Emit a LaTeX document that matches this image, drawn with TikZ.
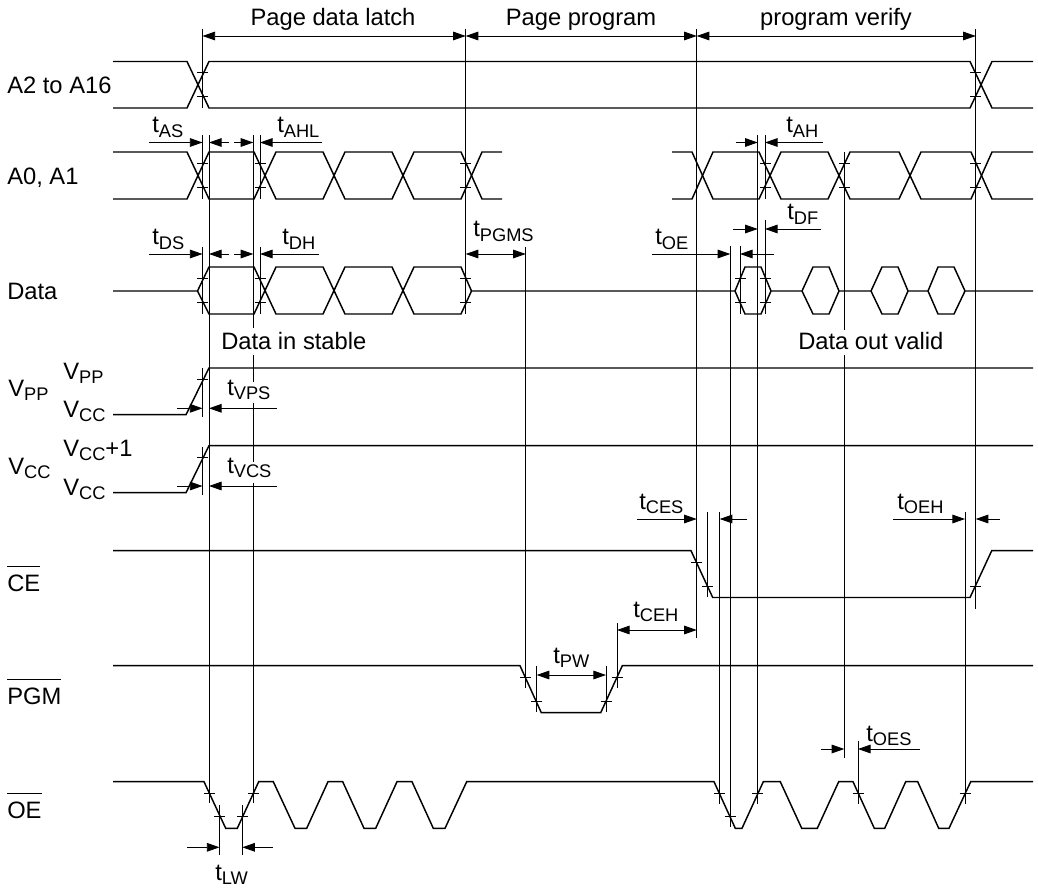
\documentclass[tikz,border=0pt]{standalone}
\usepackage{fontspec}
\setmainfont{Liberation Sans}
\usetikzlibrary{arrows.meta}
\newcommand{\subtxt}[2]{#1\raisebox{-3.4pt}{\fontsize{13.7}{15}\selectfont #2}}
\newcommand{\barsig}[1]{$\overline{\mbox{\rule{0pt}{17.4pt}#1}}$}
\tikzset{
  wave/.style={line width=1.1pt},
  thinline/.style={line width=0.65pt},
  lbl/.style={anchor=base west,inner sep=0pt,font=\fontsize{17.8}{20}\selectfont},
  title/.style={anchor=base,inner sep=0pt,font=\fontsize{17.8}{20}\selectfont},
  dim/.style={line width=0.65pt,-{Triangle[length=9.5pt,width=6.5pt]}},
  dimboth/.style={line width=0.65pt,{Triangle[length=9.5pt,width=6.5pt]}-{Triangle[length=9.5pt,width=6.5pt]}}
}
\newcommand{\ticks}[2]{\foreach \xx in {#1} {\foreach \yy in {#2} {\draw [thinline] (\xx-5.5,\yy) -- (\xx+5.5,\yy);}}}
\begin{document}
\begin{tikzpicture}[x=0.75pt,y=-0.75pt]
        \useasboundingbox (0,0) rectangle (1038,891);
        \node (latch) [title] at (333,26) {Page data latch};
        \node (program) [title] at (581,26) {Page program};
        \node (verify) [title] at (836,26) {program verify};
        \node (addrhi) [lbl] at (7,94) {A2 to A16};
        \node (addrlo) [lbl] at (7,185) {A0, A1};
        \node (data) [lbl] at (7,299) {Data};
        \node (vpp) [lbl] at (8,396) {\subtxt{V}{PP}};
        \node (vpphigh) [lbl] at (63,379) {\subtxt{V}{PP}};
        \node (vpplow) [lbl] at (63,417) {\subtxt{V}{CC}};
        \node (vcc) [lbl] at (8,474) {\subtxt{V}{CC}};
        \node (vcchigh) [lbl] at (63,456) {\subtxt{V}{CC}+1};
        \node (vcclow) [lbl] at (63,495) {\subtxt{V}{CC}};
        \node (ce) [lbl] at (7,591) {\barsig{CE}};
        \node (pgm) [lbl] at (7,704) {\barsig{PGM}};
        \node (oe) [lbl] at (7,818) {\barsig{OE}};
        \node (instable) [lbl] at (221,349) {Data in stable};
        \node (outvalid) [lbl] at (798,349) {Data out valid};
        \node (tas) [lbl] at (152,133) {\subtxt{t}{AS}};
        \node (tahl) [lbl] at (277,133) {\subtxt{t}{AHL}};
        \node (tah) [lbl] at (786,133) {\subtxt{t}{AH}};
        \node (tds) [lbl] at (152,245) {\subtxt{t}{DS}};
        \node (tdh) [lbl] at (282,245) {\subtxt{t}{DH}};
        \node (tpgms) [lbl] at (473,237) {\subtxt{t}{PGMS}};
        \node (tdf) [lbl] at (787,220) {\subtxt{t}{DF}};
        \node (toe) [lbl] at (655,245) {\subtxt{t}{OE}};
        \node (tvps) [lbl] at (227,395) {\subtxt{t}{VPS}};
        \node (tvcs) [lbl] at (227,473) {\subtxt{t}{VCS}};
        \node (tces) [lbl] at (639,509) {\subtxt{t}{CES}};
        \node (toeh) [lbl] at (897,509) {\subtxt{t}{OEH}};
        \node (tceh) [lbl] at (633,617) {\subtxt{t}{CEH}};
        \node (tpw) [lbl] at (553,663) {\subtxt{t}{PW}};
        \node (toes) [lbl] at (866,741) {\subtxt{t}{OES}};
        \node (tlw) [lbl] at (215,880) {\subtxt{t}{LW}};

        \draw [wave] (113,61.5) -- (187,61.5) -- (209,108) -- (970,108) -- (992,61.5) -- (1033,61.5);
        \draw [wave] (113,108) -- (187,108) -- (209,61.5) -- (970,61.5) -- (992,108) -- (1033,108);

        \draw [wave] (113,152) -- (187,152) -- (209,199) -- (254,199) -- (276,152) -- (323,152) -- (345,199) -- (392,199) -- (414,152) -- (461,152) -- (482,199) -- (502,199);
        \draw [wave] (113,199) -- (187,199) -- (209,152) -- (254,152) -- (276,199) -- (323,199) -- (345,152) -- (392,152) -- (414,199) -- (461,199) -- (482,152) -- (502,152);
        \draw [wave] (672,152) -- (692,152) -- (713,199) -- (759,199) -- (781,152) -- (828,152) -- (850,199) -- (899,199) -- (921,152) -- (971,152) -- (992,199) -- (1033,199);
        \draw [wave] (672,199) -- (692,199) -- (713,152) -- (759,152) -- (781,199) -- (828,199) -- (850,152) -- (899,152) -- (921,199) -- (971,199) -- (992,152) -- (1033,152);

        \draw [wave] (113,291) -- (197.5,291) -- (209,267) -- (254,267) -- (276,314) -- (323,314) -- (345,267) -- (392,267) -- (414,314) -- (461,314) -- (471.5,291) -- (735,291) -- (745,267) -- (761,267) -- (771,291) -- (802,291) -- (813,267) -- (829,267) -- (839,291) -- (871,291) -- (882,267) -- (898,267) -- (908,291) -- (928,291) -- (938,267) -- (954,267) -- (965,291) -- (1033,291);
        \draw [wave] (197.5,291) -- (209,314) -- (254,314) -- (276,267) -- (323,267) -- (345,314) -- (392,314) -- (414,267) -- (461,267) -- (471.5,291);
        \draw [wave] (735,291) -- (745,314) -- (761,314) -- (771,291);
        \draw [wave] (802,291) -- (813,314) -- (829,314) -- (839,291);
        \draw [wave] (871,291) -- (882,314) -- (898,314) -- (908,291);
        \draw [wave] (928,291) -- (938,314) -- (954,314) -- (965,291);

        \draw [wave] (113,414.7) -- (186,414.7) -- (209,368) -- (1033,368);
        \draw [wave] (113,492.7) -- (186,492.7) -- (209,445.7) -- (1033,445.7);
        \draw [wave] (113,550.7) -- (691,550.7) -- (712.7,597.5) -- (970,597.5) -- (991.7,550.7) -- (1033,550.7);
        \draw [wave] (113,665.7) -- (520,665.7) -- (541.3,712.7) -- (600.7,712.7) -- (622.3,665.7) -- (1033,665.7);
        \draw [wave] (113,781.7) -- (204,781.7) -- (225.7,828.3) -- (237.3,828.3) -- (258.7,781.7) -- (273.3,781.7) -- (295,828.3) -- (306.7,828.3) -- (328,781.7) -- (342.7,781.7) -- (364,828.3) -- (375.7,828.3) -- (397,781.7) -- (412,781.7) -- (433.3,828.3) -- (445,828.3) -- (466.7,781.7) -- (714,781.7) -- (735.3,828.3) -- (742,828.3) -- (763.3,781.7) -- (780.3,781.7) -- (801.7,828.3) -- (817.3,828.3) -- (838.7,781.7) -- (853,781.7) -- (874.3,828.3) -- (884.7,828.3) -- (905.7,781.7) -- (917.7,781.7) -- (938.7,828.3) -- (949,828.3) -- (970.7,781.7) -- (1033,781.7);

        \draw [thinline] (202.5,29) -- (202.5,108);
        \draw [thinline] (202.5,135) -- (202.5,199);
        \draw [thinline] (202.5,247) -- (202.5,314);
        \draw [thinline] (202.5,368) -- (202.5,417);
        \draw [thinline] (202.5,447) -- (202.5,495);
        \draw [thinline] (209,135) -- (209,803);
        \draw [thinline] (253.3,135) -- (253.3,328);
        \draw [thinline] (253.3,355) -- (253.3,382);
        \draw [thinline] (253.3,403) -- (253.3,462);
        \draw [thinline] (253.3,483) -- (253.3,803);
        \draw [thinline] (260,135) -- (260,199);
        \draw [thinline] (260,247) -- (260,314);
        \draw [thinline] (219.5,805) -- (219.5,855);
        \draw [thinline] (242.3,805) -- (242.3,855);
        \draw [thinline] (465.7,29) -- (465.7,314);
        \draw [thinline] (525.7,247) -- (525.7,688);
        \draw [thinline] (536.7,666) -- (536.7,712);
        \draw [thinline] (606,666) -- (606,712);
        \draw [thinline] (617,623) -- (617,688);
        \draw [thinline] (696.7,29) -- (696.7,638);
        \draw [thinline] (707.7,512) -- (707.7,597);
        \draw [thinline] (719.7,512) -- (719.7,804);
        \draw [thinline] (730.3,246) -- (730.3,827);
        \draw [thinline] (740,246) -- (740,314);
        \draw [thinline] (757.7,135) -- (757.7,804);
        \draw [thinline] (765,135) -- (765,199);
        \draw [thinline] (765,220) -- (765,314);
        \draw [thinline] (844.3,152) -- (844.3,330);
        \draw [thinline] (844.3,355) -- (844.3,758);
        \draw [thinline] (858,741) -- (858,804);
        \draw [thinline] (965,512) -- (965,804);
        \draw [thinline] (975.7,29) -- (975.7,609);

        \ticks{202.5,975.7}{72.5,96}
        \ticks{202.5,260,465.7,765,844.3,975.7}{163.5,187.5}
        \ticks{202.5,260,465.7,740.5,765}{278.5,302.5}
        \ticks{202.5}{379.3,457.3}
        \ticks{696.7}{562}
        \ticks{707.7,975.7}{586}
        \ticks{525.7,617}{677.5}
        \ticks{536.7,606}{701}
        \ticks{209,253.3,719.7,757.7,858,965}{793}
        \ticks{219.5,242.3,730.3}{816.7}

        \draw [dimboth] (202.5,36) -- (465.7,36);
        \draw [dimboth] (465.7,36) -- (696.7,36);
        \draw [dimboth] (696.7,36) -- (975.7,36);
        \draw [dim] (149,142.5) -- (202.5,142.5);
        \draw [dim] (229,142.5) -- (209,142.5);
        \draw [dim] (234,142.5) -- (253.3,142.5);
        \draw [dim] (322,142.5) -- (260,142.5);
        \draw [dim] (735.7,142.5) -- (757.7,142.5);
        \draw [dim] (823,142.5) -- (765,142.5);
        \draw [dim] (733,229) -- (757.7,229);
        \draw [dim] (821,229) -- (765,229);
        \draw [dim] (149,254) -- (202.5,254);
        \draw [dim] (229,254) -- (209,254);
        \draw [dim] (234,254) -- (253.3,254);
        \draw [dim] (319,254) -- (260,254);
        \draw [dimboth] (465.7,254) -- (525.7,254);
        \draw [dim] (652,254) -- (730.3,254);
        \draw [dim] (774,254) -- (740,254);
        \draw [dim] (177,408.3) -- (202.5,408.3);
        \draw [dim] (276.7,408.3) -- (209,408.3);
        \draw [dim] (177,486) -- (202.5,486);
        \draw [dim] (276.7,486) -- (209,486);
        \draw [dim] (637,519) -- (696.7,519);
        \draw [dim] (747,519) -- (719.7,519);
        \draw [dim] (893,519) -- (965,519);
        \draw [dim] (1000,519) -- (975.7,519);
        \draw [dimboth] (617,630) -- (696.7,630);
        \draw [dimboth] (536.7,675) -- (606,675);
        \draw [dim] (821,749) -- (844.3,749);
        \draw [dim] (920,749) -- (858,749);
        \draw [dim] (187,847.3) -- (219.5,847.3);
        \draw [dim] (273,847.3) -- (242.3,847.3);
      \end{tikzpicture}
\end{document}
